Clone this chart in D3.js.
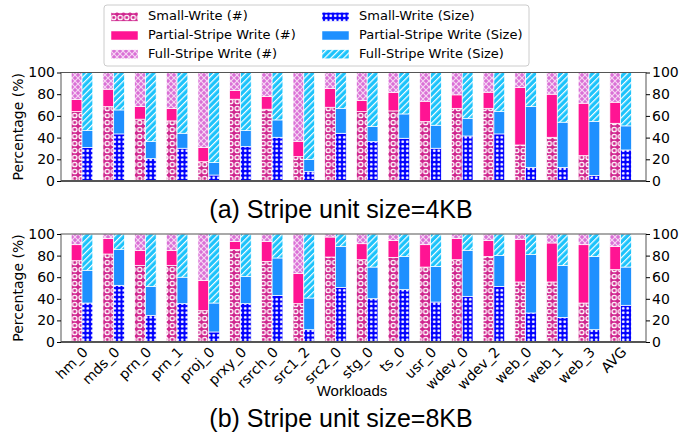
<!DOCTYPE html>
<html><head><meta charset="utf-8">
<script src="https://cdn.jsdelivr.net/npm/d3@7/dist/d3.min.js"></script>
<style>body{margin:0;background:#fff}svg{display:block}</style>
</head><body><svg id="c" width="699" height="433"></svg>
<script>
const categories = ["hm_0","mds_0","prn_0","prn_1","proj_0","prxy_0","rsrch_0","src1_2","src2_0","stg_0","ts_0","usr_0","wdev_0","wdev_2","web_0","web_1","web_3","AVG"];
// Panel (a) 4KB
const a_smallNum   = [64,68.6,57,55.4,17.8,75.4,66.2,22.5,68,64,64.6,54.8,67,67,33.2,40.3,23.4,53.2];
const a_partialNum = [11,16,11.6,11.4,13,8,11.6,14.1,17.2,10.2,16.9,18.7,12.4,14.8,53,39.7,48.3,19.4];
const a_smallSize  = [31,43.4,20.6,30.2,5.5,31.7,40.3,8.6,44,36.3,39.4,30.2,41.5,43.4,12.6,12.6,5,28.6];
const a_partialSize= [15.5,22.1,15.7,13.8,11.5,14.8,16,11.4,23,13.9,22.4,21.2,16.3,20.6,56,41.6,50,22.2];
// Panel (b) 8KB
const b_smallNum   = [75.3,81.5,71,71,29,85.5,74.7,35.5,78.7,76.2,78.4,69.4,76.2,79.3,55.6,55.6,36.1,67];
const b_partialNum = [14.8,14.2,13.6,13.6,28.1,7.7,18.5,27.8,18.5,14.8,15.7,20.7,19.5,14.8,39.2,36.1,54,21.6];
const b_smallSize  = [36.1,52.5,24.7,35.5,9.3,35.5,43.2,11.4,50.6,40.1,48.5,37,42.3,51.5,26.9,22.8,11.4,34];
const b_partialSize= [30.3,33,26.8,24.5,26.8,25.3,34.6,29.3,38,29.3,30.8,33,42.6,28.7,54,48.2,67.9,35.4];
const yTicks = [0,20,40,60,80,100];
const seriesNames = ["Small-Write (#)","Partial-Stripe Write (#)","Full-Stripe Write (#)","Small-Write (Size)","Partial-Stripe Write (Size)","Full-Stripe Write (Size)"];

const svg = d3.select("#c");
const defs = svg.append("defs");
function pat(id,w,h,bg,draw){
  const p = defs.append("pattern").attr("id",id).attr("patternUnits","userSpaceOnUse").attr("width",w).attr("height",h);
  p.append("rect").attr("width",w).attr("height",h).attr("fill",bg);
  draw(p);
}
pat("pSmallNum",6.5,7,"#d0278f",p=>{
  p.append("circle").attr("cx",3.25).attr("cy",3.5).attr("r",2.3).attr("fill","#e46bb4").attr("stroke","#fff").attr("stroke-width",1.1);
  p.append("circle").attr("cx",3.25).attr("cy",3.5).attr("r",0.9).attr("fill","#c71585");
});
pat("pFullNum",6,6,"#da70d6",p=>{
  p.append("path").attr("d","M0,0L6,6M6,0L0,6").attr("stroke","#f6d6f4").attr("stroke-width",1.2);
});
pat("pSmallSize",4.5,4.5,"#0000ff",p=>{
  p.append("circle").attr("cx",2.25).attr("cy",2.25).attr("r",1.4).attr("fill","#fff");
});
pat("pFullSize",4.5,4.5,"#1cc3fb",p=>{
  p.attr("patternTransform","rotate(45)");
  p.append("rect").attr("x",0).attr("y",0).attr("width",1.2).attr("height",4.5).attr("fill","#fff");
});
const fills = ["url(#pSmallNum)","#ff1493","url(#pFullNum)","url(#pSmallSize)","#1e90ff","url(#pFullSize)"];

const x = d3.scaleLinear().domain([-0.663,17.80]).range([61,646]);
const bw = 0.34;
const font = "DejaVu Sans, sans-serif";

function panel(top,bottom,sN,pN,sS,pS,showX){
  const y = d3.scaleLinear().domain([0,100]).range([bottom,top]);
  const g = svg.append("g");
  const rows = categories.map((c,i)=>({i,
    num:[sN[i],pN[i],100-sN[i]-pN[i]],
    size:[sS[i],pS[i],100-sS[i]-pS[i]]}));
  rows.forEach(r=>{
    let acc=0;
    r.num.forEach((v,k)=>{
      g.append("rect").attr("x",x(r.i-bw)).attr("width",x(bw)-x(0)).attr("y",y(acc+v)).attr("height",y(acc)-y(acc+v))
        .attr("fill",fills[k]).attr("stroke","#fff").attr("stroke-width",0.7);
      acc+=v;
    });
    acc=0;
    r.size.forEach((v,k)=>{
      g.append("rect").attr("x",x(r.i)).attr("width",x(bw)-x(0)).attr("y",y(acc+v)).attr("height",y(acc)-y(acc+v))
        .attr("fill",fills[3+k]).attr("stroke","#fff").attr("stroke-width",0.7);
      acc+=v;
    });
  });
  g.append("rect").attr("x",61).attr("y",top).attr("width",585).attr("height",bottom-top).attr("fill","none").attr("stroke","#555").attr("stroke-width",1);
  g.append("line").attr("x1",61).attr("x2",646).attr("y1",bottom).attr("y2",bottom).attr("stroke","#555").attr("stroke-width",2);
  const la = g.append("g").attr("transform","translate(61,0)").call(d3.axisLeft(y).tickValues(yTicks).tickSize(4).tickPadding(2));
  const ra = g.append("g").attr("transform","translate(646,0)").call(d3.axisRight(y).tickValues(yTicks).tickSize(4).tickPadding(2));
  [la,ra].forEach(a=>{a.select(".domain").remove();a.selectAll("text").attr("font-family",font).attr("font-size",14).attr("fill","#000");a.selectAll("line").attr("stroke","#000");});
  g.append("text").attr("transform",`translate(19,${(top+bottom)/2}) rotate(-90)`).attr("text-anchor","middle").attr("dominant-baseline","middle")
    .attr("font-family",font).attr("font-size",14).text("Percentage (%)");
  if(showX){
    categories.forEach((c,i)=>{
      g.append("text").attr("transform",`translate(${x(i)+4},${bottom+8}) rotate(-45)`).attr("text-anchor","end").attr("dominant-baseline","middle")
        .attr("font-family",font).attr("font-size",14).text(c);
    });
  }
}
panel(72.5,181,a_smallNum,a_partialNum,a_smallSize,a_partialSize,false);
panel(234,342,b_smallNum,b_partialNum,b_smallSize,b_partialSize,true);

svg.append("text").attr("x",341).attr("y",218).attr("text-anchor","middle").attr("font-family","Liberation Sans, Arial, sans-serif").attr("font-size",25).text("(a) Stripe unit size=4KB");
svg.append("text").attr("x",341).attr("y",427).attr("text-anchor","middle").attr("font-family","Liberation Sans, Arial, sans-serif").attr("font-size",25).text("(b) Stripe unit size=8KB");
svg.append("text").attr("x",352).attr("y",396).attr("text-anchor","middle").attr("font-family","Liberation Sans, Arial, sans-serif").attr("font-size",15).text("Workloads");

const lg = svg.append("g");
lg.append("rect").attr("x",104).attr("y",5).attr("width",425).attr("height",61).attr("rx",3).attr("fill","#fff").attr("stroke","#ccc");
seriesNames.forEach((n,k)=>{
  const col = Math.floor(k/3), row = k%3;
  const sx = col===0?111:322, ty = 16.7+row*18.8;
  lg.append("rect").attr("x",sx).attr("y",ty-4.5).attr("width",27).attr("height",9).attr("fill",fills[k]).attr("stroke","#fff").attr("stroke-width",0.5);
  lg.append("text").attr("x",sx+37).attr("y",ty).attr("dominant-baseline","middle").attr("font-family",font).attr("font-size",13).text(n);
});
</script></body></html>
